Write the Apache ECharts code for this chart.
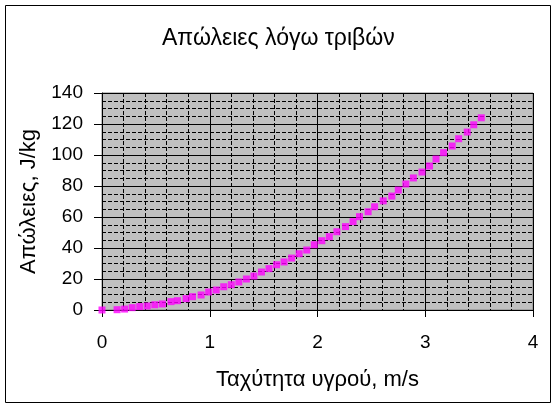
<!DOCTYPE html>
<html>
<head>
<meta charset="utf-8">
<script src="https://cdn.jsdelivr.net/npm/echarts@6/dist/echarts.min.js"></script>
<style>
  html, body { margin: 0; padding: 0; background: #fff; }
  #chart { width: 557px; height: 408px; }
</style>
</head>
<body>
<div id="chart"></div>
<script>
// ταχύτητα (m/s) και απώλειες (J/kg), διαβασμένα από το διάγραμμα
var speed = [0, 0.14, 0.21, 0.28, 0.35, 0.42, 0.49, 0.56, 0.64, 0.70,
  0.78, 0.84, 0.92, 0.99, 1.06, 1.13, 1.20, 1.27, 1.34, 1.41,
  1.48, 1.55, 1.62, 1.69, 1.76, 1.83, 1.90, 1.97, 2.04, 2.11,
  2.18, 2.26, 2.33, 2.39, 2.47, 2.53, 2.61, 2.69, 2.75, 2.82,
  2.89, 2.97, 3.04, 3.10, 3.17, 3.25, 3.31, 3.39, 3.45, 3.52];
var losses = [0, 0.2, 0.6, 1.5, 2.2, 2.6, 3.4, 3.9, 5.4, 6.0,
  7.3, 8.6, 9.7, 11.6, 12.9, 15.0, 16.3, 18.1, 20.0, 21.9,
  24.5, 26.7, 29.2, 31.0, 33.5, 36.3, 38.7, 42.1, 44.7, 47.3,
  50.5, 53.8, 57.0, 60.2, 63.4, 66.6, 70.4, 73.5, 77.4, 81.3,
  85.2, 89.0, 92.9, 97.4, 101.5, 105.8, 110.5, 114.8, 119.5, 124.0];

var font = "Liberation Sans, Arial, sans-serif";

var points = [];
for (var i = 0; i < speed.length; i++) {
  points.push([speed[i], losses[i]]);
}

var chart = echarts.init(document.getElementById("chart"));

var option = {
  backgroundColor: "#fff",
  animation: false,
  title: {
    text: "Απώλειες λόγω τριβών",
    left: 157,
    top: 22,
    textStyle: { fontFamily: font, fontSize: 23, fontWeight: "normal", color: "#000" }
  },
  graphic: [{
    type: "rect",
    shape: { x: 5.5, y: 5.5, width: 545, height: 397 },
    style: { fill: null, stroke: "#000", lineWidth: 1 },
    silent: true
  }],
  grid: {
    left: 102, top: 93, width: 431, height: 217,
    show: true,
    backgroundColor: "#c0c0c0",
    borderColor: "#808080",
    borderWidth: 1
  },
  xAxis: {
    type: "value",
    min: 0, max: 4, interval: 1,
    name: "Ταχύτητα υγρού, m/s",
    nameLocation: "middle",
    nameGap: 59,
    nameTextStyle: { fontFamily: font, fontSize: 22, color: "#000" },
    axisLine: { show: true, onZero: false, lineStyle: { color: "#000", width: 1 } },
    axisTick: { show: true, inside: false, length: 7, lineStyle: { color: "#000" } },
    axisLabel: { fontFamily: font, fontSize: 19, color: "#000", margin: 23 },
    splitLine: { show: true, lineStyle: { color: "#000", width: 1 } },
    minorTick: { show: false, splitNumber: 5 },
    minorSplitLine: { show: true, lineStyle: { color: "#000", width: 1, type: [4, 2] } }
  },
  yAxis: {
    type: "value",
    min: 0, max: 140, interval: 20,
    name: "Απώλειες, J/kg",
    nameLocation: "middle",
    nameGap: 59,
    nameTextStyle: { fontFamily: font, fontSize: 22, color: "#000" },
    axisLine: { show: true, lineStyle: { color: "#000", width: 1 } },
    axisTick: { show: true, inside: false, length: 8, lineStyle: { color: "#000" } },
    axisLabel: { fontFamily: font, fontSize: 19, color: "#000", margin: 19 },
    splitLine: { show: true, lineStyle: { color: "#000", width: 1 } },
    minorTick: { show: false, splitNumber: 4 },
    minorSplitLine: { show: true, lineStyle: { color: "#000", width: 1, type: [4, 2] } }
  },
  series: [{
    name: "Απώλειες",
    type: "scatter",
    data: points,
    symbol: "rect",
    symbolSize: 7,
    itemStyle: { color: "#ff00ff" }
  }]
};

chart.setOption(option);
</script>
</body>
</html>
